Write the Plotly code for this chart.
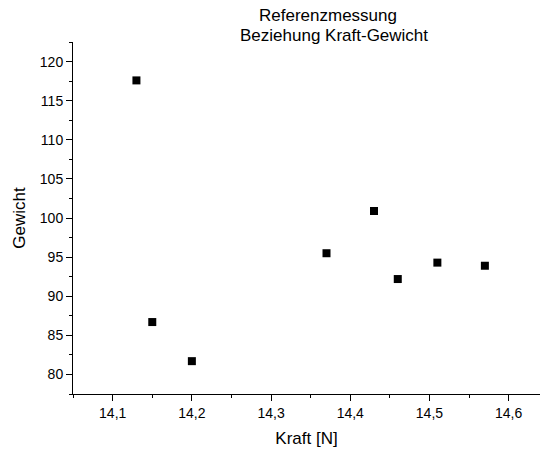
import plotly.graph_objects as go

kraft = [14.13, 14.15, 14.20, 14.37, 14.43, 14.46, 14.51, 14.57]
gewicht = [117.6, 86.7, 81.7, 95.5, 100.9, 92.2, 94.3, 93.9]

title_line1 = "Referenzmessung"
title_line2 = "Beziehung Kraft-Gewicht"
x_title = "Kraft [N]"
y_title = "Gewicht"

FONT = "Liberation Sans, Arial, sans-serif"

fig = go.Figure()
fig.add_trace(go.Scatter(
    x=kraft, y=gewicht, mode="markers",
    marker=dict(symbol="square", size=8, color="black", line=dict(width=0)),
    showlegend=False,
))

# plot area: left 73, right 540, top 42.5, bottom 394.5
def py(pix):
    return (394.5 - pix) / 352.0

def px(pix):
    return (pix - 73) / 467.0

fig.add_annotation(text=title_line1, xref="paper", yref="paper",
                   x=px(328), y=py(15.5), xanchor="center", yanchor="middle",
                   showarrow=False, font=dict(size=17, color="black", family=FONT))
fig.add_annotation(text=title_line2, xref="paper", yref="paper",
                   x=px(334), y=py(35.5), xanchor="center", yanchor="middle",
                   showarrow=False, font=dict(size=17, color="black", family=FONT))

axis_common = dict(
    showgrid=False, zeroline=False, showline=True, linecolor="black", linewidth=1,
    ticks="outside", ticklen=6, tickwidth=1, tickcolor="black",
    tickfont=dict(size=14, color="black", family=FONT),
    mirror=False, automargin=False,
)

fig.update_xaxes(
    **axis_common,
    range=[14.0499, 14.6396], tick0=14.0, dtick=0.1, tickformat=".1f",
    minor=dict(ticks="outside", ticklen=3, tickwidth=1, tickcolor="black", dtick=0.05, tick0=14.0),
    title=dict(text=x_title, font=dict(size=17, color="black", family=FONT), standoff=12),
)
fig.update_yaxes(
    **axis_common,
    range=[77.5, 122.51], tick0=0, dtick=5,
    minor=dict(ticks="outside", ticklen=3, tickwidth=1, tickcolor="black", dtick=2.5, tick0=0),
    title=dict(text=y_title, font=dict(size=17, color="black", family=FONT), standoff=9),
)

fig.update_layout(
    width=540, height=450,
    margin=dict(l=73, r=0, t=42, b=56, pad=0),
    plot_bgcolor="white", paper_bgcolor="white",
    separators=",.",
    font=dict(family=FONT, color="black"),
)

fig.write_html("out.html", config={"displayModeBar": False},
               post_script="document.body.style.margin='0';")
